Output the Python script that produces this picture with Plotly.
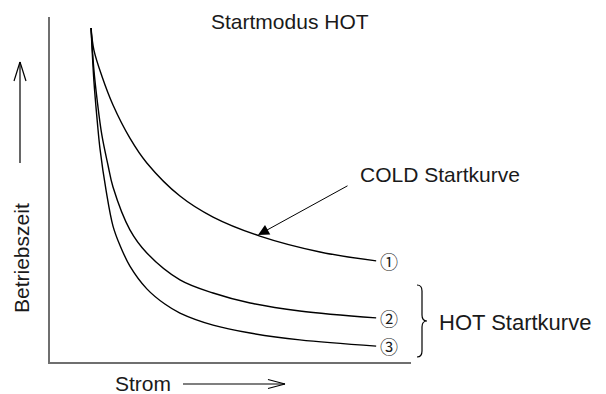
import plotly.graph_objects as go

# Current (arbitrary units) vs. operating time (arbitrary units)
strom_kalt = [1.14, 1.22, 1.44, 1.75, 2.22, 2.69, 3.61, 4.53, 5.83, 7.50, 9.06]
zeit_kalt = [9.68, 9.04, 8.29, 7.45, 6.49, 5.77, 4.81, 4.20, 3.65, 3.19, 2.93]

strom_heiss_2 = [1.14, 1.22, 1.31, 1.44, 1.61, 1.75, 2.22, 2.69, 3.61, 4.53, 5.56, 6.94, 9.06]
zeit_heiss_2 = [9.68, 8.46, 7.59, 6.58, 5.71, 5.07, 3.83, 3.16, 2.38, 2.00, 1.71, 1.48, 1.28]

strom_heiss_3 = [1.14, 1.22, 1.31, 1.39, 1.56, 1.75, 1.94, 2.22, 2.69, 3.19, 3.61, 4.53,
                 5.56, 6.94, 9.06]
zeit_heiss_3 = [9.68, 8.14, 7.01, 6.17, 4.96, 3.94, 3.39, 2.78, 2.12, 1.68, 1.42, 1.07,
                0.84, 0.64, 0.46]

kurven = [
    ("①", strom_kalt, zeit_kalt),
    ("②", strom_heiss_2, zeit_heiss_2),
    ("③", strom_heiss_3, zeit_heiss_3),
]

# Plot-area geometry (pixels) used to place decorations in paper units
L, T, R, B = 50, 17, 411, 362
W, H = 606, 394


def px(x):
    return (x - L) / (R - L)


def py(y):
    return (B - y) / (B - T)


FONT = "Liberation Sans, Arial, Helvetica, sans-serif"
TXT = "#1a1a1a"

fig = go.Figure()
annotations = []
for name, xs, ys in kurven:
    fig.add_trace(go.Scatter(
        x=xs, y=ys, mode="lines", name=name,
        line=dict(color="black", width=1.4, shape="spline", smoothing=1.0),
        hoverinfo="skip", showlegend=False,
    ))
    annotations.append(dict(
        x=xs[-1], y=ys[-1], xref="x", yref="y", text=name, showarrow=False,
        xanchor="left", yanchor="middle", xshift=2,
        font=dict(family="Noto Sans CJK JP, DejaVu Sans", size=18, color=TXT),
    ))

# Arrow pointing at the COLD curve
annotations.append(dict(
    x=(258 - L) / 36, y=(B - 235) / 34.5, xref="x", yref="y",
    ax=91, ay=-50, axref="pixel", ayref="pixel",
    text="", showarrow=True, arrowhead=2, arrowsize=2.2, arrowwidth=1,
    arrowcolor="black",
))
annotations += [
    dict(x=px(358), y=py(175), xref="paper", yref="paper", text="COLD Startkurve",
         showarrow=False, xanchor="left", yanchor="middle",
         font=dict(family=FONT, size=21, color=TXT)),
    dict(x=px(437), y=py(322), xref="paper", yref="paper", text="HOT Startkurve",
         showarrow=False, xanchor="left", yanchor="middle",
         font=dict(family=FONT, size=22, color=TXT)),
    dict(x=px(290), y=py(21), xref="paper", yref="paper", text="Startmodus HOT",
         showarrow=False, xanchor="center", yanchor="middle",
         font=dict(family=FONT, size=21, color=TXT)),
    dict(x=px(113), y=py(383), xref="paper", yref="paper", text="Strom",
         showarrow=False, xanchor="left", yanchor="middle",
         font=dict(family=FONT, size=21, color=TXT)),
    dict(x=px(21), y=py(258), xref="paper", yref="paper", text="Betriebszeit",
         showarrow=False, xanchor="center", yanchor="middle", textangle=-90,
         font=dict(family=FONT, size=21, color=TXT)),
]


def pline(x0, y0, x1, y1, w=1.2):
    return dict(type="line", xref="paper", yref="paper",
                x0=px(x0), y0=py(y0), x1=px(x1), y1=py(y1),
                line=dict(color="black", width=w))


shapes = [
    # vertical "time" arrow
    pline(20, 163, 20, 62),
    pline(20, 62, 14, 81),
    pline(20, 62, 26, 81),
    # horizontal "current" arrow
    pline(183, 384, 285, 384),
    pline(285, 384, 268, 379.5),
    pline(285, 384, 268, 388.5),
]

# curly brace grouping the HOT curves
brace_pts = [
    ("M", 417, 285), ("Q", 422, 285, 422, 291), ("L", 422, 315),
    ("Q", 422, 321, 427, 321), ("Q", 422, 321, 422, 327), ("L", 422, 351),
    ("Q", 422, 357, 417, 357),
]
path = ""
for seg in brace_pts:
    cmd, *c = seg
    pts = [f"{px(c[i]):.5f},{py(c[i + 1]):.5f}" for i in range(0, len(c), 2)]
    path += cmd + " ".join(pts) + " "
shapes.append(dict(type="path", xref="paper", yref="paper", path=path.strip(),
                   line=dict(color="black", width=1.2)))

axis_common = dict(showgrid=False, zeroline=False, showticklabels=False,
                   ticks="", showline=True, linecolor="#6f6f6f", linewidth=1.6)

fig.update_layout(
    width=W, height=H,
    margin=dict(l=L, r=W - R, t=T, b=H - B, pad=0),
    paper_bgcolor="white", plot_bgcolor="white",
    xaxis=dict(range=[0, (R - L) / 36], **axis_common),
    yaxis=dict(range=[0, (B - T) / 34.5], **axis_common),
    annotations=annotations,
    shapes=shapes,
)

fig.write_html("out.html")
